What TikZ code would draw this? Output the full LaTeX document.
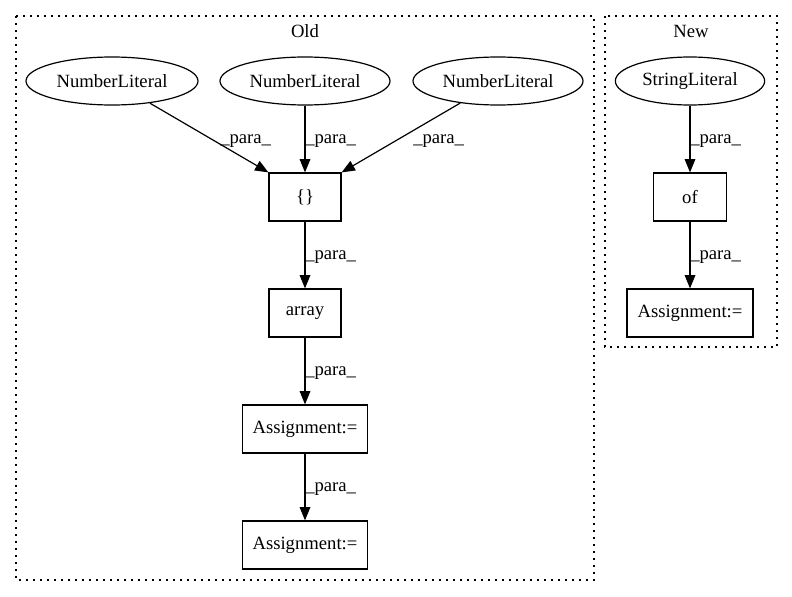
\documentclass[tikz,border=0pt]{standalone}
\usepackage{fontspec}
\setmainfont{Liberation Serif}
\usetikzlibrary{arrows.meta,shapes.geometric}
\begin{document}
\begin{tikzpicture}[x=0.75pt,y=-0.75pt,
  every node/.style={font=\fontsize{14pt}{16pt}\selectfont},
  lit/.style={draw, ellipse, line width=0.9pt, minimum height=36pt, inner sep=0pt},
  box/.style={draw, rectangle, line width=0.9pt, minimum height=36pt, inner sep=0pt},
  edge/.style={-{Triangle[length=10pt,width=8pt]}, line width=0.9pt},
  cluster/.style={line width=1pt, dash pattern=on 1.5pt off 3.75pt},
  lbl/.style={anchor=west, inner sep=0pt}]
\useasboundingbox (0,0) rectangle (792,596);
% clusters
\draw[cluster] (16,16) rectangle (594,580);
\draw[cluster] (605,16) rectangle (777,347);
\node (oldlbl) at (305,31) {Old};
\node (newlbl) at (691,31) {New};
% Old nodes
\node[lit, minimum width=129pt] (nl1) at (112,81) {NumberLiteral};
\node[lit, minimum width=127.5pt] (nl2) at (305,81) {NumberLiteral};
\node[lit, minimum width=127.5pt] (nl3) at (498,81) {NumberLiteral};
\node[box, minimum width=54pt] (br) at (305,197) {\{\}};
\node[box, minimum width=54pt] (arr) at (305,313) {array};
\node[box, minimum width=94pt] (as1) at (305,429) {Assignment:=};
\node[box, minimum width=94pt] (as2) at (305,545) {Assignment:=};
% New nodes
\node[lit, minimum width=112pt] (sl) at (690,81) {StringLiteral};
\node[box, minimum width=55pt] (of) at (690,197) {of};
\node[box, minimum width=94.5pt] (as3) at (690,313) {Assignment:=};
% edges
\draw[edge] (nl1) -- (br.north west);
\draw[edge] (nl2) -- (br);
\draw[edge] (nl3) -- (br.north east);
\draw[edge] (br) -- (arr);
\draw[edge] (arr) -- (as1);
\draw[edge] (as1) -- (as2);
\draw[edge] (sl) -- (of);
\draw[edge] (of) -- (as3);
% edge labels
\node[lbl] (l1) at (220,141) {\_para\_};
\node[lbl] (l2) at (305,141) {\_para\_};
\node[lbl] (l3) at (413,141) {\_para\_};
\node[lbl] (l4) at (305,257) {\_para\_};
\node[lbl] (l5) at (305,373) {\_para\_};
\node[lbl] (l6) at (305,489) {\_para\_};
\node[lbl] (l7) at (690,141) {\_para\_};
\node[lbl] (l8) at (690,257) {\_para\_};
\end{tikzpicture}
\end{document}
